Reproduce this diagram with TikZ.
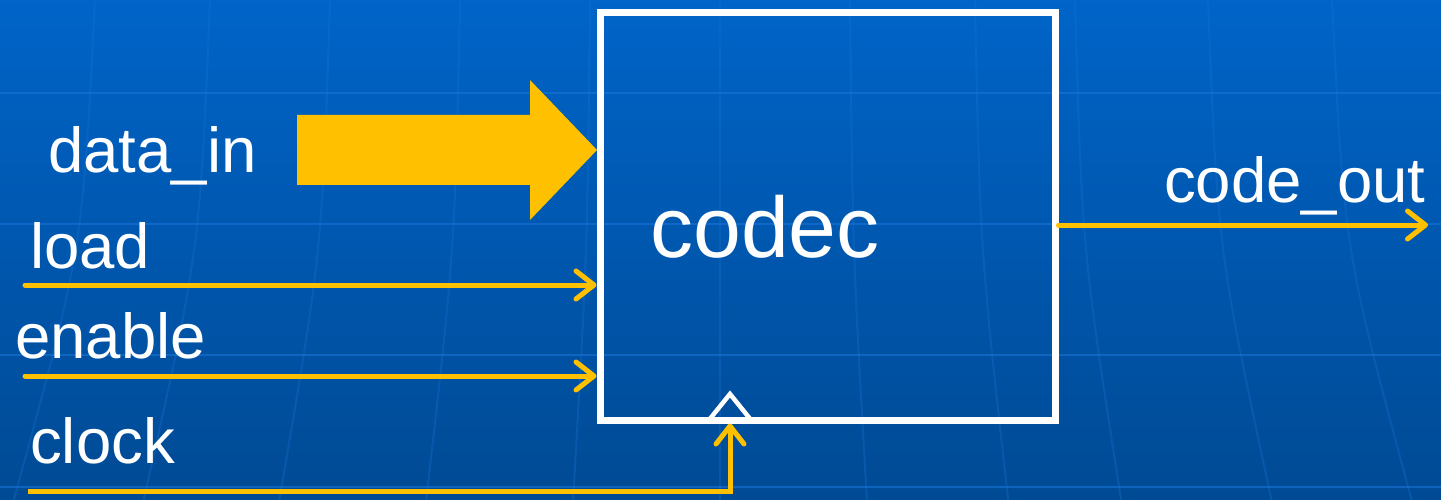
\documentclass[tikz,border=0pt]{standalone}
\usepackage{fontspec}
\setmainfont{Liberation Sans}
\usetikzlibrary{arrows.meta,calc}
\definecolor{bgtop}{HTML}{0064C8}
\definecolor{bgbot}{HTML}{004A94}
\definecolor{gridc}{HTML}{1A74D6}
\definecolor{sig}{HTML}{FFC000}
\tikzset{
  lbl/.style={text=white, font=\fontsize{63.5}{63.5}\selectfont, anchor=base west, inner sep=0pt},
  wire/.style={draw=sig, line width=5pt, -{Straight Barb[length=18pt,width=28pt,round]}, line cap=round},
  gridline/.style={draw=gridc, line width=2pt, opacity=0.6},
}
\begin{document}
\begin{tikzpicture}[x=1pt,y=-1pt]
\useasboundingbox (0,0) rectangle (1441,500);
\shade[top color=bgtop, bottom color=bgbot] (0,0) rectangle (1441,500);
% faint grid
\foreach \yy in {93,224,355,487} \draw[gridline] (0,\yy) -- (1441,\yy);
\foreach \xx in {-20,95,210,330,460,590,720,850,975,1075,1208,1332,1450} {
  \draw[gridline,opacity=0.3] (\xx,0) .. controls ({720+(\xx-720)*1.02},250) .. ({720+(\xx-720)*1.13},500);
}
% block
\node[draw=white, line width=7pt, minimum width=455pt, minimum height=407pt, inner sep=0pt] (codec) at (827.5,216.5) {};
\node[lbl, font=\fontsize{86}{86}\selectfont] (codectxt) at (650,257) {codec};
% clock triangle
\coordinate (clk) at (730,420);
\draw[white, line width=4.5pt, line join=miter] ($(clk)+(-21,0)$) -- ($(clk)+(0,-26)$) -- ($(clk)+(21,0)$);
% big data arrow
\fill[sig] (297,115) -- (530,115) -- (530,80) -- (597,150) -- (530,220) -- (530,185) -- (297,185) -- cycle;
% labels
\node[lbl] (datain) at (48,172) {data\_in};
\node[lbl] (load) at (30,268) {load};
\node[lbl] (enable) at (15,358) {enable};
\node[lbl] (clock) at (30,463) {clock};
\node[lbl] (codeout) at (1164,203) {code\_out};
% wires
\coordinate (ls) at (25,285);
\coordinate (es) at (25,376);
\coordinate (cs) at (28,491);
\coordinate (co) at (1428,225);
\draw[wire] (ls) -- (ls -| codec.west);
\draw[wire] (es) -- (es -| codec.west);
\draw[wire, line cap=butt] (cs) -| (clk |- codec.south);
\draw[wire] (co -| codec.east) -- (co);
\end{tikzpicture}
\end{document}
